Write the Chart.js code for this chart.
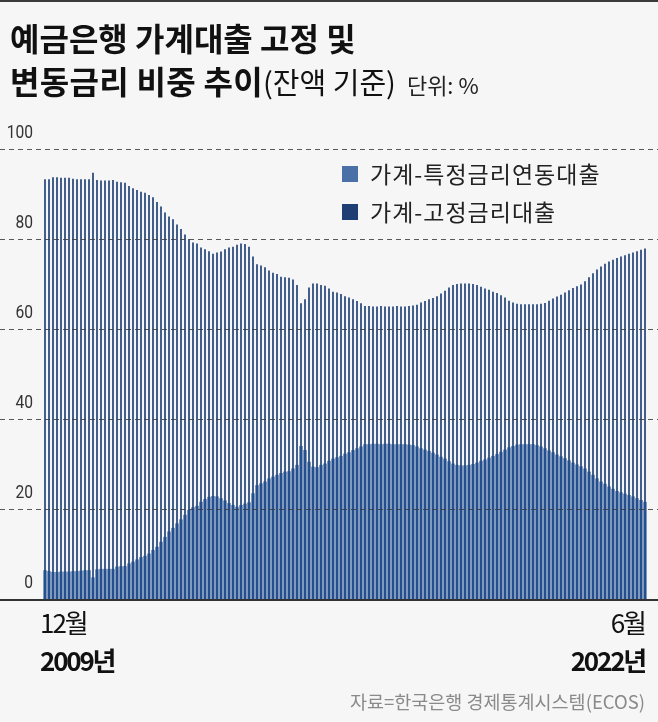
<!DOCTYPE html>
<html><head><meta charset="utf-8">
<script src="https://cdn.jsdelivr.net/npm/chart.js@4.4.1/dist/chart.umd.min.js"></script>
<style>
html,body{margin:0;padding:0;background:#f6f6f6;}
#wrap{position:relative;width:658px;height:722px;overflow:hidden;font-family:'Noto Sans CJK KR',sans-serif;color:#111;}
#c{position:absolute;left:0;top:0;}
.t{position:absolute;white-space:nowrap;}
#topline{position:absolute;left:0;top:0;width:658px;height:2px;background:#3a3a3a;}
.sq{position:absolute;width:16px;height:16px;}
</style></head>
<body>
<div id="wrap">
<canvas id="c" width="658" height="722"></canvas>
<div id="topline"></div>
<div class="t" id="title1" style="left:10px;top:21px;font-size:32px;line-height:32px;font-weight:700;letter-spacing:0px;">예금은행 가계대출 고정 및</div>
<div class="t" id="title2" style="left:10px;top:64px;line-height:32px;">
<span style="font-size:32px;font-weight:700;letter-spacing:0.3px;">변동금리 비중 추이</span><span style="font-size:29px;font-weight:400;letter-spacing:0px;">(잔액 기준)</span><span style="font-size:22px;font-weight:400;margin-left:11px;color:#222;">단위: %</span>
</div>
<div class="sq" id="sq1" style="left:342px;top:166px;background:#4a70a8;"></div>
<div class="sq" id="sq2" style="left:342px;top:204px;background:#1f3f74;"></div>
<div class="t" id="lg1" style="left:370px;top:162px;font-size:23px;line-height:23px;letter-spacing:1px;color:#222;"></div>
<div class="t" id="lg2" style="left:370px;top:200px;font-size:23px;line-height:23px;letter-spacing:1px;color:#222;"></div>
<div class="t" style="left:40px;top:609px;font-size:26px;line-height:26px;letter-spacing:-2px;color:#111;">12월</div>
<div class="t" style="left:40px;top:647px;font-size:26px;line-height:26px;font-weight:700;letter-spacing:-2.2px;color:#111;">2009년</div>
<div class="t" style="right:13px;top:609px;font-size:26px;line-height:26px;letter-spacing:-2px;color:#111;">6월</div>
<div class="t" style="right:13px;top:647px;font-size:26px;line-height:26px;font-weight:700;letter-spacing:-2.2px;color:#111;">2022년</div>
<div class="t" style="right:13px;top:692px;font-size:18.5px;line-height:19px;color:#8a8a8a;">자료=한국은행 경제통계시스템(ECOS)</div>
</div>
<script>
// Series names
const SERIES_NAMES = ['가계-특정금리연동대출', '가계-고정금리대출'];
// Y-axis tick values
const yTicks = [0, 20, 40, 60, 80, 100];
// Months: Dec 2009 .. Jun 2022
const startYear = 2009, startMonth = 12, endYear = 2022, endMonth = 6;

// 가계-특정금리연동대출 (%), Dec 2009 .. Jun 2022
const variableRate = [
  93.3,
  93.3, 93.7, 93.7, 93.6, 93.6, 93.6, 93.4, 93.3, 93.3, 93.3, 93.3, 94.7,
  93.1, 93.0, 93.0, 93.0, 93.1, 92.7, 92.6, 92.5, 91.8, 91.3, 90.9, 90.5,
  90.3, 89.8, 89.3, 88.2, 87.2, 85.9, 85.0, 84.4, 83.2, 82.2, 81.0, 80.0,
  79.2, 79.0, 78.1, 77.7, 77.3, 76.7, 77.0, 77.2, 77.7, 78.1, 78.3, 78.7,
  79.0, 78.9, 78.3, 76.1, 74.4, 74.1, 73.7, 73.0, 72.5, 72.2, 71.6, 71.5,
  71.4, 71.0, 69.8, 65.7, 66.6, 69.2, 70.1, 70.1, 69.8, 69.6, 69.0, 68.3,
  68.1, 67.8, 67.3, 67.0, 66.6, 66.2, 65.7, 65.1, 65.1, 65.0, 65.0, 65.1,
  65.0, 65.0, 65.0, 65.1, 65.0, 65.0, 65.1, 65.2, 65.4, 65.9, 66.2, 66.6,
  66.9, 67.3, 67.9, 68.5, 69.2, 69.8, 70.0, 70.1, 70.1, 70.1, 70.0, 69.8,
  69.4, 69.0, 68.7, 68.3, 68.0, 67.5, 67.0, 66.3, 65.9, 65.6, 65.5, 65.5,
  65.5, 65.5, 65.5, 65.6, 65.8, 66.3, 66.8, 67.2, 67.6, 68.1, 68.6, 69.1,
  69.5, 69.9, 70.6, 71.5, 72.4, 73.2, 73.9, 74.5, 75.0, 75.4, 75.8, 76.1,
  76.4, 76.7, 77.0, 77.3, 77.6, 77.9
];

// 가계-고정금리대출 (%), Dec 2009 .. Jun 2022
const fixedRate = [
  6.4,
  6.2, 6.0, 6.0, 6.1, 6.1, 6.1, 6.2, 6.2, 6.3, 6.4, 6.4, 4.8,
  6.6, 6.7, 6.7, 6.7, 6.7, 7.2, 7.3, 7.3, 7.9, 8.3, 8.8, 9.3,
  9.6, 10.1, 10.9, 11.6, 12.7, 13.8, 15.0, 15.8, 16.8, 17.7, 18.7, 19.8,
  20.4, 20.7, 21.6, 22.2, 22.7, 22.9, 22.8, 22.4, 21.9, 21.3, 20.9, 20.5,
  20.9, 21.2, 21.5, 23.5, 25.3, 25.7, 26.1, 26.8, 27.2, 27.6, 28.0, 28.3,
  28.4, 29.0, 29.8, 34.0, 33.1, 30.5, 29.4, 29.3, 29.8, 30.1, 30.7, 31.2,
  31.5, 31.8, 32.3, 32.6, 33.1, 33.5, 33.9, 34.4, 34.4, 34.5, 34.5, 34.4,
  34.5, 34.5, 34.4, 34.4, 34.4, 34.4, 34.3, 34.2, 33.9, 33.5, 33.2, 32.9,
  32.5, 32.1, 31.6, 31.2, 30.6, 30.1, 29.8, 29.7, 29.7, 29.8, 30.0, 30.3,
  30.7, 31.0, 31.4, 31.8, 32.2, 32.7, 33.2, 33.7, 34.0, 34.3, 34.4, 34.4,
  34.4, 34.4, 34.2, 33.9, 33.5, 33.0, 32.6, 32.1, 31.7, 31.3, 30.8, 30.3,
  29.9, 29.5, 29.0, 28.3, 27.6, 26.8, 26.1, 25.6, 25.0, 24.5, 24.0, 23.7,
  23.4, 23.1, 22.8, 22.4, 22.0, 21.6
];

const categories = [];
for (let y = startYear, m = startMonth; y < endYear || (y === endYear && m <= endMonth); ) {
  categories.push(y + '.' + String(m).padStart(2, '0'));
  m++; if (m > 12) { m = 1; y++; }
}

document.getElementById('lg1').textContent = SERIES_NAMES[0];
document.getElementById('lg2').textContent = SERIES_NAMES[1];

const deco = {
  id: 'deco',
  afterDatasetsDraw(chart) {
    const ctx = chart.ctx, y = chart.scales.y, W = chart.width;
    ctx.save();
    yTicks.forEach(v => {
      const py = Math.round(y.getPixelForValue(v)) + 0.5;
      if (v > 0) {
        ctx.setLineDash([5, 4]);
        ctx.strokeStyle = 'rgba(60,60,60,0.85)';
        ctx.lineWidth = 1;
        ctx.beginPath(); ctx.moveTo(0, py); ctx.lineTo(W, py); ctx.stroke();
      }
      ctx.setLineDash([]);
      ctx.save();
      ctx.translate(33, py - 16);
      ctx.scale(0.82, 1);
      ctx.fillStyle = '#333';
      ctx.font = '19px Roboto';
      ctx.textAlign = 'right';
      ctx.textBaseline = 'middle';
      ctx.fillText(String(v), 0, 0);
      ctx.restore();
    });
    const by = y.getPixelForValue(0);
    ctx.setLineDash([]);
    ctx.strokeStyle = '#333';
    ctx.lineWidth = 2;
    ctx.beginPath(); ctx.moveTo(0, by + 1); ctx.lineTo(W, by + 1); ctx.stroke();
    ctx.restore();
  }
};

new Chart(document.getElementById('c'), {
  type: 'bar',
  data: {
    labels: categories,
    datasets: [
      { label: SERIES_NAMES[1], data: fixedRate, backgroundColor: '#244f8e',
        barPercentage: 0.78, categoryPercentage: 1, order: 0 },
      { label: SERIES_NAMES[0], data: variableRate, backgroundColor: '#415f8a',
        barPercentage: 0.5, categoryPercentage: 1, order: 1 }
    ]
  },
  options: {
    responsive: false,
    animation: false,
    events: [],
    layout: { padding: { left: 43, right: 11, top: 149, bottom: 123 } },
    scales: {
      x: { display: false, stacked: true },
      y: { display: false, stacked: false, min: 0, max: 100 }
    },
    plugins: { legend: { display: false }, tooltip: { enabled: false } }
  },
  plugins: [deco]
});
</script>
</body></html>
